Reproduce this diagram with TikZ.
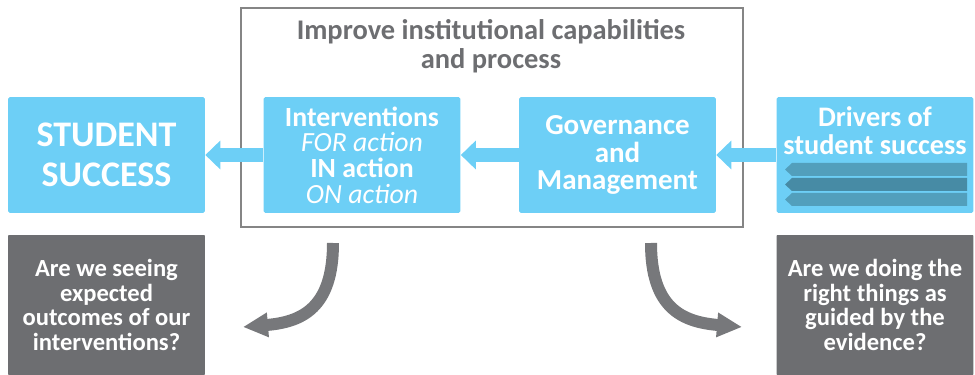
\documentclass[tikz,border=0pt]{standalone}
\usepackage{fontspec}
\setmainfont{Carlito}
\usetikzlibrary{arrows.meta}
\definecolor{ssblue}{HTML}{6DCFF6}
\definecolor{boxgray}{HTML}{6D6E71}
\definecolor{framegray}{HTML}{858585}
\definecolor{barlight}{HTML}{529FBC}
\definecolor{bardark}{HTML}{478BA5}
\definecolor{curvegray}{HTML}{77787B}
\newcommand{\boxw}{3.94cm}

\begin{document}
\begin{tikzpicture}[x=0.02cm,y=-0.02cm,
  bluebox/.style={fill=ssblue, rounded corners=1pt, minimum width=\boxw, minimum height=2.32cm, text=white, align=center, inner sep=0pt},
  graybox/.style={fill=boxgray, rounded corners=0.5pt, minimum width=\boxw, minimum height=2.8cm, text=white, align=center, inner sep=0pt, font=\bfseries\fontsize{14}{14}\selectfont},
  flow/.style={draw=ssblue, line width=0.28cm, -{Triangle[length=0.3cm,width=0.56cm]}},
  turn/.style={draw=curvegray, line width=0.24cm, -{Triangle[length=0.5cm,width=0.46cm]}}]

        \useasboundingbox (0,0) rectangle (975,375);

        \node (frame) at (492,117.5) [draw=framegray, line width=0.7pt, minimum width=10.04cm, minimum height=4.38cm] {};
        \node (title) at (491,46) [text=boxgray, align=center, font=\bfseries\fontsize{16.2}{16.5}\selectfont]
          {Improve institutional capabilities\\and process};

        \node (ss) at (106.5,155) [bluebox, font=\bfseries\fontsize{20.5}{22.7}\selectfont] {STUDENT\\SUCCESS};
        \node (inter) at (362,155) [bluebox, font=\fontsize{15.8}{14.6}\selectfont]
          {\bfseries Interventions\\\itshape FOR action\\\bfseries IN action\\\itshape ON action};
        \node (gov) at (617.5,155) [bluebox, font=\bfseries\fontsize{16.5}{15.9}\selectfont] {Governance\\and\\Management};
        \node (drv) at (875,155) [bluebox] {};
        \node (drvtext) at (875,131) [text=white, align=center, font=\bfseries\fontsize{16.1}{16}\selectfont] {Drivers of\\student success};
        \foreach \y/\c in {163/barlight,178/bardark,193/barlight}
          \fill[\c] (785,\y+6.5) -- (792,\y) -- (967,\y) -- (967,\y+13) -- (792,\y+13) -- cycle;

        \draw[flow] (drv.west) -- (gov.east);
        \draw[flow] (gov.west) -- (inter.east);
        \draw[flow] (inter.west) -- (ss.east);

        \node (qleft) at (106.5,305) [graybox] {Are we seeing\\expected\\outcomes of our\\interventions?};
        \node (qright) at (875,305) [graybox] {Are we doing the\\right things as\\guided by the\\evidence?};

        \coordinate (lfrom) at (333,243);
        \coordinate (lto) at (243,327);
        \coordinate (rfrom) at (651,243);
        \coordinate (rto) at (742,327);
        \draw[turn] (lfrom) .. controls (333,308) and (302,322) .. (lto);
        \draw[turn] (rfrom) .. controls (651,308) and (682,322) .. (rto);
\end{tikzpicture}
\end{document}
